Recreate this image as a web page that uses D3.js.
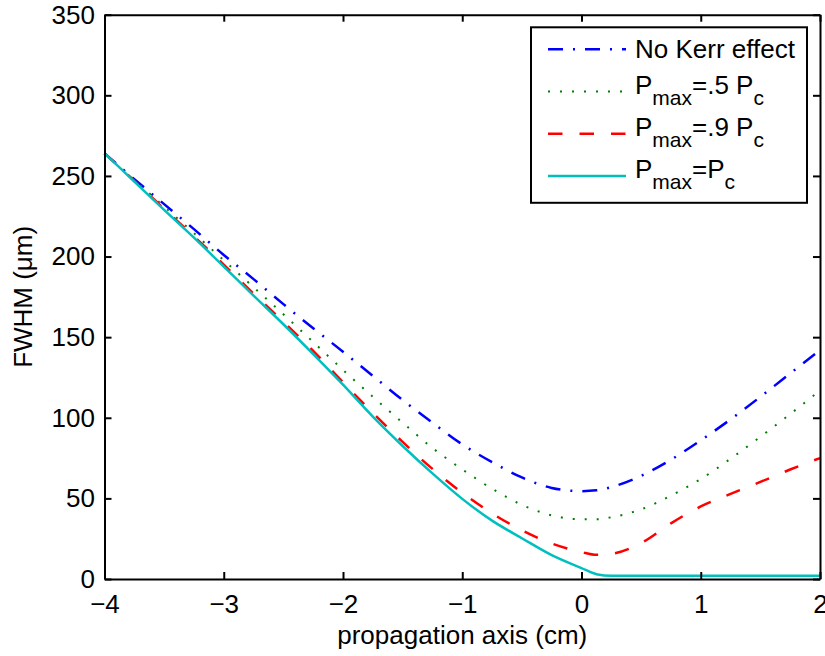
<!DOCTYPE html>
<html>
<head>
<meta charset="utf-8">
<script src="https://cdn.jsdelivr.net/npm/d3@7"></script>
<style>
    body { margin: 0; background: #fff; }
    svg { display: block; font-family: "Liberation Sans", Arial, Helvetica, sans-serif; }
    .axis path, .axis line { stroke: #000; stroke-width: 2; }
    .axis text { font-size: 26px; fill: #000; font-family: "Liberation Sans", Arial, Helvetica, sans-serif; }
</style>
</head>
<body>
<svg width="825" height="656"></svg>
<script>
// propagation axis positions (cm)
var zPos = [-4, -3.75, -3.5, -3.25, -3, -2.75, -2.5, -2.25, -2, -1.75, -1.5, -1.25, -1,
    -0.75, -0.5, -0.25, 0, 0.125, 0.25, 0.5, 0.75, 1, 1.25, 1.5, 1.75, 2];

// FWHM (um)
var noKerr = [264, 248, 232.5, 217, 201, 186, 170.5, 155.5, 141, 126, 111, 97, 83.5,
    72.5, 63, 56.5, 54.5, 55, 57, 64, 74, 86, 99, 113, 127.5, 142];
var halfPc = [264, 247.5, 231, 214.5, 197.7, 181, 164.2, 147, 129.7, 113, 97, 81.3, 68,
    56, 46, 39.5, 37, 37, 38.3, 43.2, 51.7, 62, 74.6, 88.2, 102.3, 117];
var ninetyPc = [264, 247, 229.5, 212.5, 195, 177, 159.5, 141.5, 122, 103, 85, 68.3, 53.5,
    40.7, 30.2, 22, 16.7, 15, 15.6, 22.3, 34.5, 45, 52.8, 60.2, 67.9, 75];
var fullPc = [264, 246.5, 229, 211.7, 193.8, 175.8, 158, 139.5, 120.5, 100.7, 82.5, 65.5, 49.7,
    36.2, 25.3, 14.8, 6.8, 3, 2, 2, 2, 2, 2, 2, 2, 2];

var xTicks = [-4, -3, -2, -1, 0, 1, 2];
var yTicks = [0, 50, 100, 150, 200, 250, 300, 350];

// legend labels, split in normal / subscript parts
var legendLabels = [
    [{ t: "No Kerr effect" }],
    [{ t: "P" }, { t: "max", sub: true }, { t: "=.5 P" }, { t: "c", sub: true }],
    [{ t: "P" }, { t: "max", sub: true }, { t: "=.9 P" }, { t: "c", sub: true }],
    [{ t: "P" }, { t: "max", sub: true }, { t: "=P" }, { t: "c", sub: true }]
];

window.onload = main;

function main() {
    var styles = [
        { color: "#0000ff", dash: "15,10,2,10", width: 2.5 },
        { color: "#008000", dash: "2,10", width: 2 },
        { color: "#ff0000", dash: "14.5,17", width: 2.5 },
        { color: "#00bfbf", dash: null, width: 2.5 }
    ];
    var seriesList = [noKerr, halfPc, ninetyPc, fullPc];

    var svg = d3.select("svg");
    var pLeft = 104.5, pRight = 820, pTop = 14.7, pBottom = 579;

    var x = d3.scaleLinear().domain([-4, 2]).range([pLeft, pRight]);
    var y = d3.scaleLinear().domain([0, 350]).range([pBottom, pTop]);

    var line = d3.line()
        .x(function (d) { return x(d[0]); })
        .y(function (d) { return y(d[1]); })
        .curve(d3.curveMonotoneX);

    seriesList.forEach(function (vals, i) {
        var pts = zPos.map(function (z, k) { return [z, vals[k]]; });
        svg.append("path")
            .datum(pts)
            .attr("d", line)
            .attr("fill", "none")
            .attr("stroke", styles[i].color)
            .attr("stroke-width", styles[i].width)
            .attr("stroke-dasharray", styles[i].dash);
    });

    // axes, ticks pointing inward, box all round
    var fmt = d3.format("d");
    svg.append("g").attr("class", "axis")
        .attr("transform", "translate(0," + pBottom + ")")
        .call(d3.axisBottom(x).tickValues(xTicks).tickFormat(fmt)
            .tickSizeInner(-7).tickSizeOuter(0).tickPadding(15.5));
    svg.append("g").attr("class", "axis")
        .attr("transform", "translate(" + pLeft + ",0)")
        .call(d3.axisLeft(y).tickValues(yTicks).tickFormat(fmt)
            .tickSizeInner(-7).tickSizeOuter(0).tickPadding(9.5));
    svg.append("g").attr("class", "axis")
        .attr("transform", "translate(0," + pTop + ")")
        .call(d3.axisTop(x).tickValues(xTicks).tickFormat("")
            .tickSizeInner(-7).tickSizeOuter(0));
    svg.append("g").attr("class", "axis")
        .attr("transform", "translate(" + pRight + ",0)")
        .call(d3.axisRight(y).tickValues(yTicks).tickFormat("")
            .tickSizeInner(-7).tickSizeOuter(0));

    // axis titles
    svg.append("text")
        .attr("x", (pLeft + pRight) / 2).attr("y", 644)
        .attr("text-anchor", "middle")
        .style("font-size", "26px")
        .text("propagation axis (cm)");

    svg.append("text")
        .attr("transform", "translate(32," + (pTop + pBottom) / 2 + ") rotate(-90)")
        .attr("text-anchor", "middle")
        .style("font-size", "26px")
        .text("FWHM (μm)");

    // legend
    var legend = svg.append("g");
    legend.append("rect")
        .attr("x", 531).attr("y", 27.3)
        .attr("width", 276).attr("height", 175.5)
        .attr("fill", "#fff").attr("stroke", "#000").attr("stroke-width", 2);

    legendLabels.forEach(function (parts, i) {
        var ly = 49.3 + i * 42.25;
        legend.append("line")
            .attr("x1", 548).attr("x2", 626)
            .attr("y1", ly).attr("y2", ly)
            .attr("stroke", styles[i].color)
            .attr("stroke-width", styles[i].width)
            .attr("stroke-dasharray", styles[i].dash);

        var txt = legend.append("text")
            .attr("x", 635)
            .attr("y", ly + (parts.length > 1 ? 2 : 9))
            .style("font-size", "26px");
        var shifted = false;
        parts.forEach(function (p) {
            var ts = txt.append("tspan").text(p.t);
            if (p.sub) {
                ts.attr("dy", 11).style("font-size", "21px");
                shifted = true;
            } else if (shifted) {
                ts.attr("dy", -11).style("font-size", "26px");
                shifted = false;
            }
        });
    });
}
</script>
</body>
</html>
